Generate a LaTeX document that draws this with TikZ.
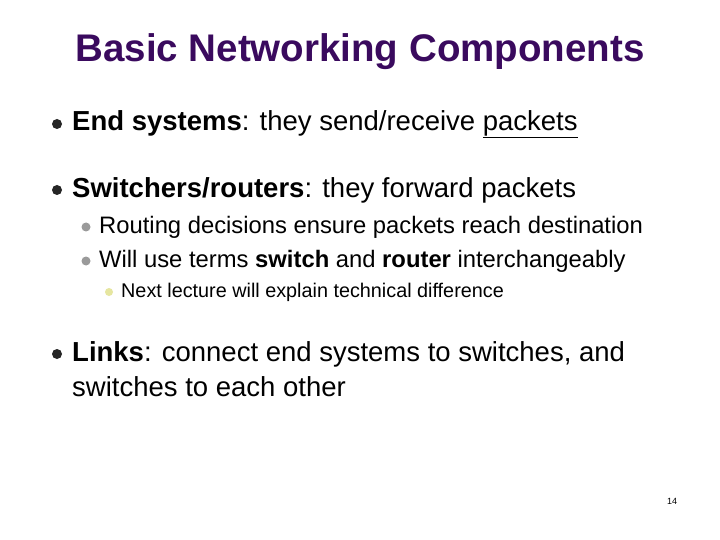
\documentclass[tikz,border=0pt]{standalone}
\usepackage{fontspec}
\setmainfont{Liberation Sans}
\usetikzlibrary{positioning}
\definecolor{titlepurple}{HTML}{3A0A5E}
\definecolor{subgray}{HTML}{9A9A9A}
\definecolor{subyellow}{HTML}{E6E6A0}
\begin{document}
\begin{tikzpicture}[x=1pt,y=-1pt,
    every node/.style={inner sep=0pt,anchor=west},
    title/.style={anchor=center,font=\fontsize{38.5}{44}\selectfont\bfseries,text=titlepurple},
    levelone/.style={font=\fontsize{27.5}{32}\selectfont},
    leveltwo/.style={font=\fontsize{23.8}{28}\selectfont},
    levelthree/.style={font=\fontsize{19.8}{23}\selectfont},
    dotone/.style={circle,fill=black!85,minimum size=10pt,anchor=center},
    dottwo/.style={circle,fill=subgray,minimum size=9pt,anchor=center},
    dotthree/.style={circle,fill=subyellow,minimum size=8pt,anchor=center}]
  \useasboundingbox[fill=white] (0,0) rectangle (720,540);
  \node[title] (T) at (360,52) {Basic Networking Components};
  % first level
  \node[dotone] (b1) at (57,124) {};
  \node[levelone] (l1) at (72,124) {\textbf{End systems}: they send/receive \underline{packets}};
  \node[dotone] (b2) at (57,190) {};
  \node[levelone] (l2) at (72,190) {\textbf{Switchers/routers}: they forward packets};
  % second level
  \node[dottwo] (b21) at (86,227) {};
  \node[leveltwo] (l21) at (99,227) {Routing decisions ensure packets reach destination};
  \node[dottwo] (b22) at (86,261) {};
  \node[leveltwo] (l22) at (99,261) {Will use terms \textbf{switch} and \textbf{router} interchangeably};
  % third level
  \node[dotthree] (b221) at (109,292) {};
  \node[levelthree] (l221) at (121,292) {Next lecture will explain technical difference};
  % links
  \node[dotone] (b3) at (57,354) {};
  \node[levelone] (l3) at (72,354) {\textbf{Links}: connect end systems to switches, and};
  \node[levelone] (l3b) at (72,387) {switches to each other};
  \node[font=\fontsize{9}{10}\selectfont] (pg) at (667,501) {14};
\end{tikzpicture}
\end{document}
